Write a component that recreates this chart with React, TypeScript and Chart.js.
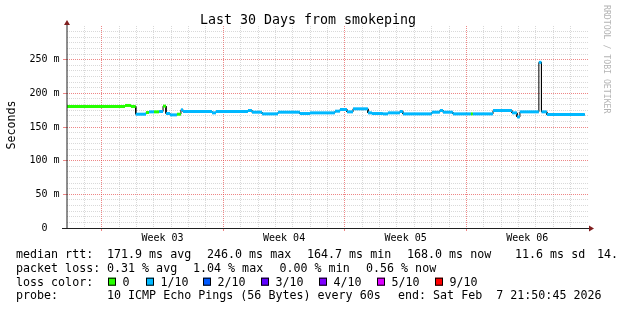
import React, { useEffect, useRef } from 'react';
import { Chart, registerables } from 'chart.js';

Chart.register(...registerables);

// ---- data ----
// x is measured in days from the left edge of the 30-day window
const stepStartDays = [0, 3.34, 3.68, 3.96, 4.55, 4.72, 5.01, 5.3, 5.53, 5.7, 5.93, 6.33, 6.56, 6.68, 8.35, 8.58, 10.42, 10.65, 11.23, 12.15, 13.41, 13.99, 15.43, 15.72, 16.12, 16.47, 17.33, 17.56, 18.19, 18.48, 19.17, 19.34, 21.01, 21.47, 21.65, 22.22, 23.26, 23.37, 24.53, 25.62, 25.91, 26.08, 27.17, 27.32, 27.63];
const dataEndDay = 29.82;
const medianMs = [180.5, 182, 180.5, 169, 171.5, 172.5, 172.5, 173, 181, 170, 168, 169, 175.5, 173, 171, 173, 174.5, 172, 169.5, 172, 170, 171, 173.5, 176, 172.5, 177, 171, 170, 169.5, 171, 173, 169.5, 172, 174.5, 172, 169.5, 169.5, 169.5, 174.5, 171, 165, 172.5, 246, 172.5, 168.5];
const lossTenths = [0, 0, 0, 1, 0, 1, 0, 1, 0, 1, 1, 0, 1, 1, 1, 1, 1, 1, 1, 1, 1, 1, 1, 1, 1, 1, 1, 1, 1, 1, 1, 1, 1, 1, 1, 1, 0, 1, 1, 1, 1, 1, 1, 1, 1];

const xMaxDays = 30;
const weekBoundaryDays = [2, 9, 16, 23];
const weekLabelDays = [5.5, 12.5, 19.5, 26.5];
const weekLabels = ['Week 03', 'Week 04', 'Week 05', 'Week 06'];

const yMaxMs = 300;
const yMinorPerMajor = 6;
const yMajorStepMs = 50;
const yTickLabels = ['0  ', '50 m', '100 m', '150 m', '200 m', '250 m'];

const lossLevels = [0, 1, 2, 3, 4, 5, 9];
const lossLabels = ['0', '1/10', '2/10', '3/10', '4/10', '5/10', '9/10'];
const lossColors = ['#26ff00', '#00b8ff', '#0059ff', '#5e00ff', '#7e00ff', '#dd00ff', '#ff0000'];

const titleText = 'Last 30 Days from smokeping';
const yTitle = 'Seconds';
const watermark = 'RRDTOOL / TOBI OETIKER';
const rttLabel = 'median rtt:';
const rttItems = ['171.9 ms avg', '246.0 ms max', '164.7 ms min', '168.0 ms now', '11.6 ms sd', '14.9 am/as'];
const lossLabel = 'packet loss:';
const lossItems = ['0.31 % avg', '1.04 % max', '0.00 % min', '0.56 % now'];
const colorLabel = 'loss color:';
const probeLabel = 'probe:';
const probeItems = ['10 ICMP Echo Pings (56 Bytes) every 60s', 'end: Sat Feb  7 21:50:45 2026'];

// ---- styling ----
const MONO = '"DejaVu Sans Mono", monospace';
const MINOR = 'rgba(150,150,150,0.36)';
const MAJOR = 'rgba(228,60,60,0.62)';
const T = 'rgba(0,0,0,0)';

function lossColor(l: number) {
  const i = lossLevels.indexOf(l);
  return lossColors[i < 0 ? 0 : i];
}

function buildPoints() {
  const pts: { x: number; y: number }[] = [];
  for (let i = 0; i < stepStartDays.length; i++) {
    const next = i + 1 < stepStartDays.length ? stepStartDays[i + 1] : dataEndDay;
    pts.push({ x: stepStartDays[i], y: medianMs[i] });
    pts.push({ x: next, y: medianMs[i] });
  }
  return pts;
}

const near = (a: number, b: number) => Math.abs(a - b) < 1e-6;

const decorPlugin = {
  id: 'decor',
  afterDraw(chart: any) {
    const { ctx, scales } = chart;
    const xs = scales.x;
    const ys = scales.y;
    const x0 = xs.getPixelForValue(0);
    const x1 = xs.getPixelForValue(xMaxDays);
    const y0 = ys.getPixelForValue(0);
    const yTop = ys.getPixelForValue(yMaxMs);
    ctx.save();
    // axes
    ctx.lineWidth = 1;
    ctx.strokeStyle = '#1f1f1f';
    ctx.beginPath();
    ctx.moveTo(x0 - 5, Math.round(y0) + 0.5);
    ctx.lineTo(x1 + 2, Math.round(y0) + 0.5);
    ctx.stroke();
    ctx.beginPath();
    ctx.moveTo(x0, y0 + 1);
    ctx.lineTo(x0, yTop - 2);
    ctx.stroke();
    // arrows
    ctx.fillStyle = '#801f1f';
    ctx.beginPath();
    ctx.moveTo(x0, yTop - 6);
    ctx.lineTo(x0 - 3, yTop - 1);
    ctx.lineTo(x0 + 3, yTop - 1);
    ctx.closePath();
    ctx.fill();
    ctx.beginPath();
    ctx.moveTo(x1 + 6, Math.round(y0) + 0.5);
    ctx.lineTo(x1 + 1, Math.round(y0) - 2.5);
    ctx.lineTo(x1 + 1, Math.round(y0) + 3.5);
    ctx.closePath();
    ctx.fill();

    // title
    ctx.fillStyle = '#000';
    ctx.font = `13.3px ${MONO}`;
    ctx.textAlign = 'center';
    ctx.textBaseline = 'alphabetic';
    ctx.fillText(titleText, 308, 24);

    // y title
    ctx.save();
    ctx.font = `11.66px ${MONO}`;
    ctx.translate(12, 125);
    ctx.rotate(-Math.PI / 2);
    ctx.textAlign = 'center';
    ctx.textBaseline = 'middle';
    ctx.fillText(yTitle, 0, 0);
    ctx.restore();

    // watermark
    ctx.save();
    ctx.font = `8.2px ${MONO}`;
    ctx.fillStyle = '#b4b4b4';
    ctx.translate(606.5, 5);
    ctx.rotate(Math.PI / 2);
    ctx.textAlign = 'left';
    ctx.textBaseline = 'middle';
    ctx.fillText(watermark, 0, 0);
    ctx.restore();

    // legend
    ctx.font = `11.66px ${MONO}`;
    ctx.textAlign = 'left';
    ctx.textBaseline = 'alphabetic';
    ctx.fillStyle = '#000';
    const b1 = 258.3, b2 = 272, b3 = 285.7, b4 = 299.3;
    ctx.fillText(rttLabel, 16, b1);
    const rttX = [107, 207, 307, 407, 515, 597];
    rttItems.forEach((t, i) => ctx.fillText(t, rttX[i], b1));
    ctx.fillText(lossLabel, 16, b2);
    const lossX = [107, 193, 279.5, 366];
    lossItems.forEach((t, i) => ctx.fillText(t, lossX[i], b2));
    ctx.fillText(colorLabel, 16, b3);
    const sqX = [108, 146, 203, 261, 319, 377, 435];
    lossLabels.forEach((t, i) => {
      ctx.fillStyle = lossColors[i];
      ctx.fillRect(sqX[i], b3 - 8, 8, 8);
      ctx.strokeStyle = '#000';
      ctx.lineWidth = 1;
      ctx.strokeRect(sqX[i] + 0.5, b3 - 7.5, 7, 7);
      ctx.fillStyle = '#000';
      ctx.fillText(t, sqX[i] + 14.5, b3);
    });
    ctx.fillText(probeLabel, 16, b4);
    ctx.fillText(probeItems[0], 107, b4);
    ctx.fillText(probeItems[1], 398, b4);
    ctx.restore();
  },
};

export default function App() {
  const ref = useRef<HTMLCanvasElement | null>(null);
  useEffect(() => {
    document.body.style.margin = '0';
    const canvas = ref.current;
    if (!canvas) return;
    const pts = buildPoints();
    const xTicks: number[] = [];
    for (let d = 0; d <= xMaxDays; d++) xTicks.push(d);
    weekLabelDays.forEach((d) => xTicks.push(d));
    xTicks.sort((a, b) => a - b);
    const yTicks: number[] = [];
    const nMinor = Math.round((yMaxMs / yMajorStepMs) * yMinorPerMajor);
    for (let k = 0; k <= nMinor; k++) yTicks.push((k * yMajorStepMs) / yMinorPerMajor);

    const isWeekLabel = (v: number) => weekLabelDays.some((d) => near(d, v));
    const isWeekBound = (v: number) => weekBoundaryDays.some((d) => near(d, v));

    const chart = new Chart(canvas, {
      type: 'line',
      data: {
        datasets: [
          {
            label: 'median',
            data: pts,
            borderWidth: 3,
            borderColor: lossColor(0),
            pointRadius: 0,
            tension: 0,
            order: 0,
            segment: {
              borderColor: (c: any) =>
                near(c.p0.parsed.x, c.p1.parsed.x)
                  ? T
                  : lossColor(lossTenths[Math.floor(c.p0DataIndex / 2)]),
            },
          },
          {
            label: 'steps',
            data: pts,
            borderWidth: 1,
            borderColor: '#000',
            pointRadius: 0,
            tension: 0,
            order: 1,
          },
        ],
      },
      options: {
        animation: false,
        responsive: false,
        devicePixelRatio: 1,
        events: [],
        layout: { padding: { left: 0, top: 26, right: 29, bottom: 62 } },
        plugins: { legend: { display: false }, tooltip: { enabled: false }, title: { display: false } },
        scales: {
          x: {
            type: 'linear',
            min: 0,
            max: xMaxDays,
            afterBuildTicks: (s: any) => {
              s.ticks = xTicks.map((v) => ({ value: v }));
            },
            afterFit: (s: any) => {
              s.height = 20;
            },
            ticks: {
              autoSkip: false,
              maxRotation: 0,
              minRotation: 0,
              padding: 1,
              color: '#000',
              font: { family: MONO, size: 10 },
              callback: (v: any) => {
                const i = weekLabelDays.findIndex((d) => near(d, Number(v)));
                return i >= 0 ? weekLabels[i] : '';
              },
            },
            grid: {
              lineWidth: 1,
              tickLength: 3,
              color: (c: any) => {
                const v = c.tick ? c.tick.value : -1;
                if (v <= 0 || v >= xMaxDays || isWeekLabel(v)) return T;
                return isWeekBound(v) ? MAJOR : MINOR;
              },
              tickColor: (c: any) => {
                const v = c.tick ? c.tick.value : -1;
                return isWeekBound(v) ? MAJOR : T;
              },
            },
            border: { display: false, dash: [1, 1] },
          },
          y: {
            type: 'linear',
            min: 0,
            max: yMaxMs,
            afterBuildTicks: (s: any) => {
              s.ticks = yTicks.map((v) => ({ value: v }));
            },
            afterFit: (s: any) => {
              s.width = 67;
            },
            ticks: {
              autoSkip: false,
              padding: 3.5,
              color: '#000',
              font: { family: MONO, size: 10 },
              callback: (_v: any, i: number) =>
                i % yMinorPerMajor === 0 && i < nMinor ? yTickLabels[i / yMinorPerMajor] : '',
            },
            grid: {
              lineWidth: 1,
              tickLength: 4,
              color: (c: any) => {
                const i = c.index;
                if (i === undefined || i === 0 || i >= nMinor) return T;
                return i % yMinorPerMajor === 0 ? MAJOR : MINOR;
              },
              tickColor: (c: any) => {
                const i = c.index;
                if (i === undefined || i === 0 || i >= nMinor) return T;
                return i % yMinorPerMajor === 0 ? MAJOR : T;
              },
            },
            border: { display: false, dash: [1, 1] },
          },
        },
      },
      plugins: [decorPlugin],
    } as any);
    return () => chart.destroy();
  }, []);
  return <canvas ref={ref} width={617} height={310} style={{ display: 'block', width: 617, height: 310 }} />;
}
